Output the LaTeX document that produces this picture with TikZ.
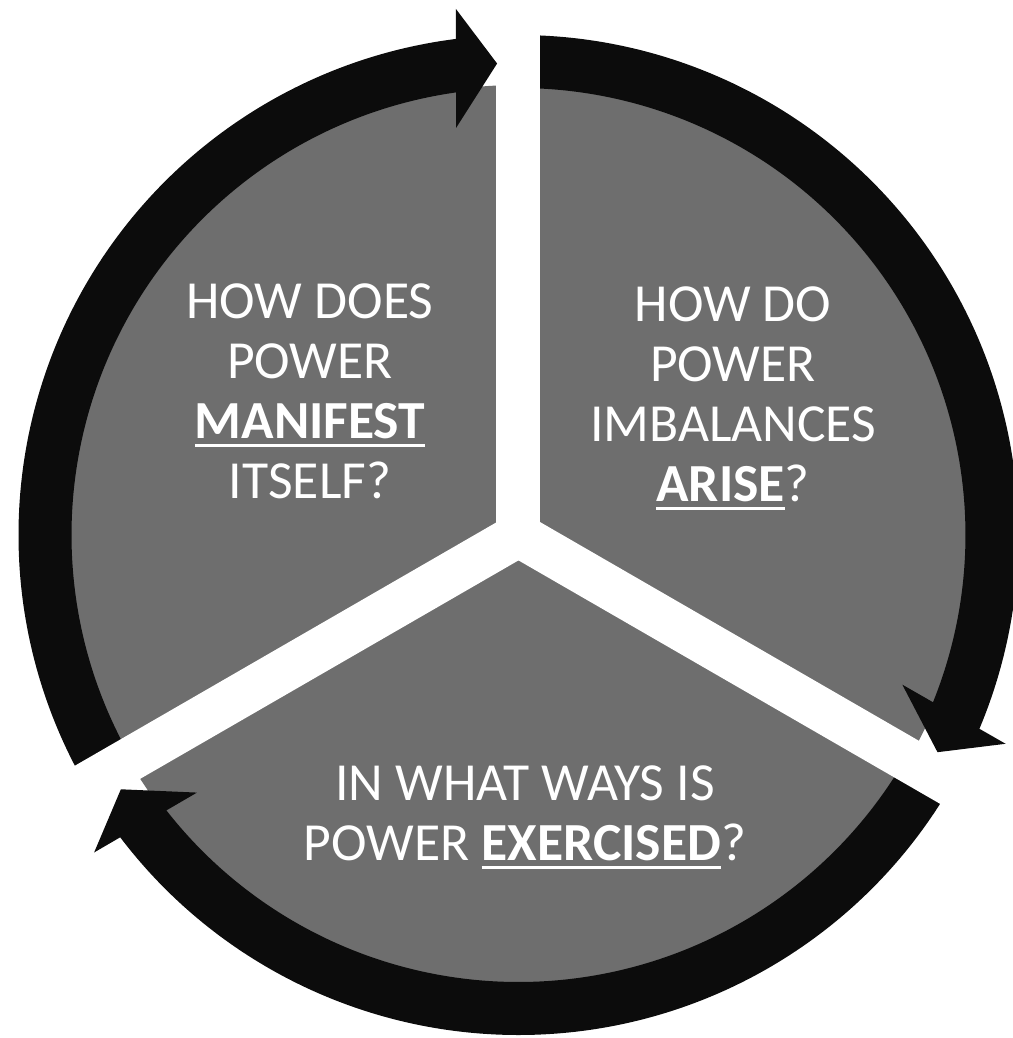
\documentclass[tikz,border=0pt]{standalone}
\usepackage{fontspec}
\setmainfont{Carlito}

\definecolor{sectorgray}{RGB}{110,110,110}
\definecolor{ringblack}{RGB}{12,12,12}
\newcommand{\keyword}[1]{\setbox0\hbox{\bfseries #1}\rlap{\rule[-2.4pt]{\wd0}{0.9pt}}\box0}

\tikzset{
    question/.style={text=white, align=center, anchor=north, inner sep=0pt,
        font=\fontsize{15.25}{17.1}\selectfont},
    gapbar/.style={white, line width=4.4mm},
}

\begin{document}
\begin{tikzpicture}
    \useasboundingbox (-5.185,-5.03) rectangle (4.945,5.35);

    % Disc
    \def\rin{4.47}
    \def\rout{5.00}
    \fill[sectorgray] (0,0) circle (4.50);

    % Ring, clockwise from gap to gap
    \foreach \g in {90,-30,210}
    \fill[ringblack] (\g+120:\rout) arc[start angle=\g+120, end angle=\g+7, radius=\rout]
        -- (\g+7.9:\rin) arc[start angle=\g+7.9, end angle=\g+120, radius=\rin] -- cycle;

    % Gaps
    \fill[white] (0,0) circle (0.22);
    \foreach \g in {90,-30,210}
    \draw[gapbar] (0,0) -- (\g:5.6);

    % Arrow heads
    \foreach \g in {90,-30,210}
    \fill[ringblack] (\g+2.6:4.72) -- (\g+6.8:5.30) -- (\g+8.7:4.12) -- cycle;

    % Questions
    \node[question] (manifest) at (-2.085,2.52) {HOW DOES\\POWER\\\keyword{MANIFEST}\\ITSELF?};
    \node[question] (arise) at (2.145,2.49) {HOW DO\\POWER\\IMBALANCES\\\keyword{ARISE}?};
    \node[question] (exercised) at (0.065,-2.30) {IN WHAT WAYS IS\\POWER \keyword{EXERCISED}?};
\end{tikzpicture}
\end{document}
